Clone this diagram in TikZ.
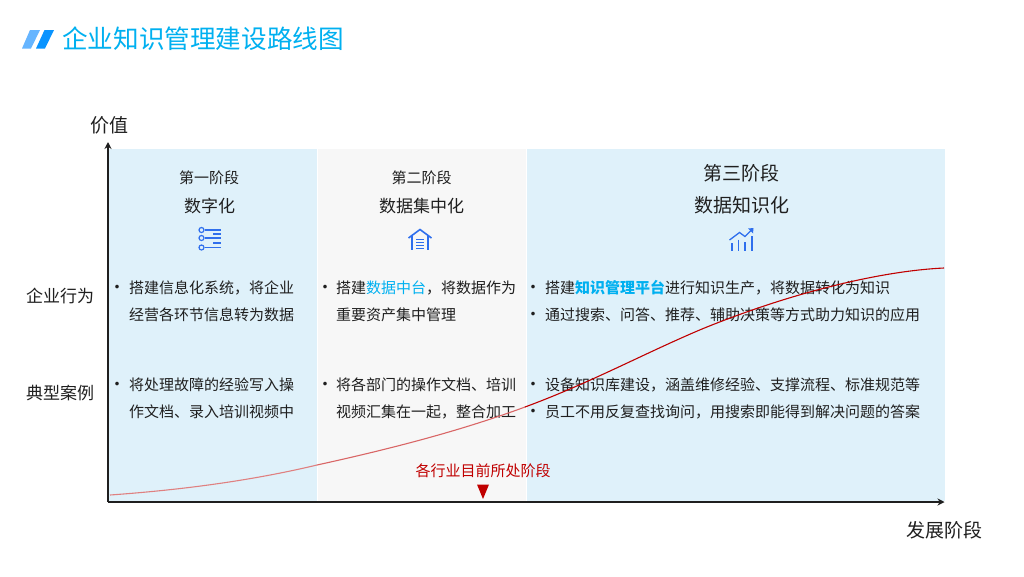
\documentclass[tikz,border=0pt]{standalone}
\usepackage{fontspec}
\setmainfont{Noto Sans CJK SC}
\usepackage{xcolor}
\usetikzlibrary{positioning, arrows.meta}
\definecolor{km-blue}{HTML}{00B0F0}
\definecolor{km-icon}{HTML}{2F6FED}
\definecolor{km-pale}{HTML}{DFF1FA}
\definecolor{km-grey}{HTML}{F7F7F7}
\definecolor{km-red}{HTML}{C00000}
\definecolor{km-ink}{HTML}{1F1F1F}
\definecolor{km-slash}{HTML}{66B5FF}
\definecolor{km-slashdark}{HTML}{0A94FF}
\tikzset{
	panel/.style={inner sep=0pt, minimum height=352pt, anchor=north west},
	bodytext/.style={inner sep=0pt, anchor=west, align=left, text=km-ink, font=\fontsize{15}{27}\selectfont},
	bulletmark/.style={inner sep=0pt, text=km-ink, font=\fontsize{17}{17}\selectfont},
	stagetext/.style={inner sep=0pt, text=km-ink, font=\fontsize{15}{18}\selectfont},
	phasetext/.style={inner sep=0pt, text=km-ink, font=\fontsize{17}{20}\selectfont},
	bigtext/.style={inner sep=0pt, text=km-ink, font=\fontsize{19}{22}\selectfont},
	icon/.style={km-icon, line width=1.3pt},
	axis/.style={-{Stealth[length=7pt,width=7pt]}, line width=1.1pt, draw=km-ink},
	curve/.style={line width=1.1pt}
}
\begin{document}
\begin{tikzpicture}[x=1pt, y=-1pt]
	\useasboundingbox (0,0) rectangle (1024,576);
	\fill[white] (0,0) rectangle (1024,576);

	\fill[km-slash] (22,48.5) -- (30,30) -- (40,30) -- (31,48.5) -- cycle;
	\fill[km-slashdark] (36,48.5) -- (44.5,30) -- (54,30) -- (45,48.5) -- cycle;
	\node[inner sep=0pt, anchor=west, text=km-blue, font=\fontsize{25.6}{30}\selectfont] (title) at (62,38.5) {企业知识管理建设路线图};

	\node[panel, fill=km-pale, minimum width=208pt] (panel1) at (109,149) {};
	\node[panel, fill=km-grey, minimum width=208.5pt, right=0pt of panel1] (panel2) {};
	\node[panel, fill=km-pale, minimum width=418pt, right=0pt of panel2] (panel3) {};

	\coordinate (origin) at (108,502);
	\coordinate (ytip) at (108,142);
	\coordinate (xtip) at (944.5,502);
	\draw[axis] (origin) -- (ytip);
	\draw[axis] (origin) -- (xtip);
	\node[bigtext] (yname) at (109,125) {价值};
	\node[bigtext] (xname) at (944.5,530) {发展阶段};
	\node[phasetext] (row1) at (60,296) {企业行为};
	\node[phasetext] (row2) at (60,393) {典型案例};

	\node[stagetext] (stage1) at (209,177.5) {第一阶段};
	\node[phasetext] (phase1) at (209.5,206) {数字化};
	\node[stagetext] (stage2) at (421.5,178) {第二阶段};
	\node[phasetext] (phase2) at (421.5,206) {数据集中化};
	\node[bigtext] (stage3) at (741,173) {第三阶段};
	\node[bigtext] (phase3) at (741.5,205) {数据知识化};

	% list icon
	\foreach \y/\s in {230/a, 238/b, 247.5/c}{
		\node[circle, draw=km-icon, line width=1.2pt, inner sep=0pt, minimum size=5pt] (dot\s) at (201.5,\y) {};
		\coordinate (end\s) at (221,\y);
		\draw[icon] (dot\s) -- (end\s);
	}
	\draw[icon] (213,234) -- (221,234);
	\draw[icon] (213,243) -- (221,243);

	% house icon
	\draw[icon, line width=1.6pt] (408.5,238) -- (420,229.5) -- (431.5,238);
	\draw[icon, line width=1.6pt] (412,236) -- (412,250);
	\draw[icon, line width=1.6pt] (428,236) -- (428,250);
	\foreach \y in {239.5,242.5,245.5,248.5}
		\draw[icon, line width=1.5pt] (416,\y) -- (424,\y);

	% chart icon
	\draw[icon] (729.5,240) -- (739.5,232.5) -- (745,236.5) -- (752,229.5);
	\fill[km-icon] (753.5,228) -- (748,228.5) -- (753,233.5) -- cycle;
	\foreach \x/\y in {732/243, 738.5/239.5, 745/242, 752/236}
		\draw[icon, line width=1.6pt] (\x,\y) -- (\x,251);

	\foreach \x/\y in {117/289.5, 117/386.5, 325/289.5, 325/386.5, 533/289.5, 533/316.5, 533/386.5, 533/413.5}
		\node[bulletmark] (bullet\x-\y) at (\x,\y) {•};

	\node[bodytext] (act1) at (129,301.5) {搭建信息化系统，将企业\\经营各环节信息转为数据};
	\node[bodytext] (act2) at (336,301.5) {搭建\textcolor{km-blue}{数据中台}，将数据作为\\重要资产集中管理};
	\node[bodytext] (act3a) at (545,288) {搭建\textcolor{km-blue}{\bfseries 知识管理平台}进行知识生产，将数据转化为知识};
	\node[bodytext] (act3b) at (545,315) {通过搜索、问答、推荐、辅助决策等方式助力知识的应用};
	\node[bodytext] (case1) at (129,398) {将处理故障的经验写入操\\作文档、录入培训视频中};
	\node[bodytext] (case2) at (336,398) {将各部门的操作文档、培训\\视频汇集在一起，整合加工};
	\node[bodytext] (case3a) at (545,384.5) {设备知识库建设，涵盖维修经验、支撑流程、标准规范等};
	\node[bodytext] (case3b) at (545,411.5) {员工不用反复查找询问，用搜索即能得到解决问题的答案};

	\coordinate (c0) at (110,495);
	\coordinate (c1) at (317,465);
	\coordinate (c2) at (525,407);
	\coordinate (c3) at (702,329);
	\coordinate (c4) at (944,268);
	\draw[curve, km-red!50!white] (c0) .. controls (180,490) and (250,481) .. (c1);
	\draw[curve, km-red!60!white] (c1) .. controls (390,449) and (460,431) .. (c2);
	\draw[curve, km-red] (c2) .. controls (590,383) and (645,353) .. (c3);
	\draw[curve, km-red] (c3) .. controls (790,293) and (880,271) .. (c4);

	\node[inner sep=0pt, text=km-red, font=\fontsize{15}{18}\selectfont] (current) at (483,471) {各行业目前所处阶段};
	\coordinate (tipl) at (477,484.5);
	\coordinate (tipr) at (489,484.5);
	\coordinate (tipb) at (483,499);
	\fill[km-red] (tipl) -- (tipr) -- (tipb) -- cycle;
\end{tikzpicture}
\end{document}
